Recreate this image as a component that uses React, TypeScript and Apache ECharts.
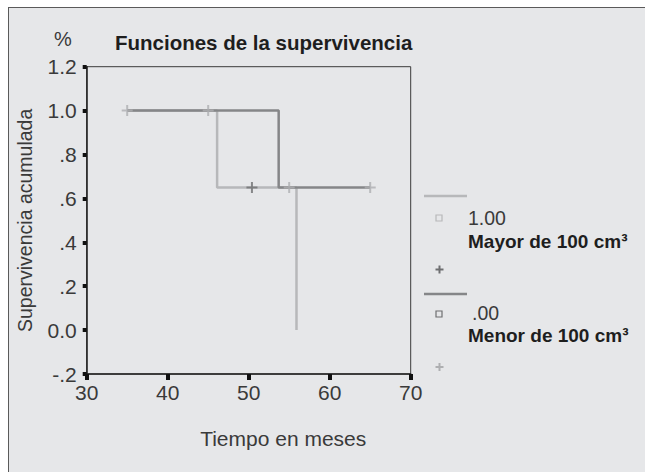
import React, { useEffect, useRef } from "react";
import * as echarts from "echarts";

// Kaplan-Meier steps (time in months, cumulative survival)
const mayorCurve: [number, number][] = [
  [35, 1.0],
  [46.1, 0.65],
  [55.9, 0.0],
];
const menorCurve: [number, number][] = [
  [35, 1.0],
  [53.7, 0.65],
  [65, 0.65],
];
// censored observations
const mayorCensored: [number, number][] = [[50.4, 0.65]];
const menorCensored: [number, number][] = [
  [35, 1.0],
  [45, 1.0],
  [55, 0.65],
  [65, 0.65],
];
const yTickLabels = ["-.2", "0.0", ".2", ".4", ".6", ".8", "1.0", "1.2"];
const legendCodes = ["1.00", ".00"];
const legendLabels = ["Mayor de 100 cm³", "Menor de 100 cm³"];

const LIGHT = "#b7b8ba";
const DARK = "#858688";
const LIGHT_PLUS = "#aeafb1";
const DARK_PLUS = "#6e6f71";
const FONT = "'Liberation Sans', Arial, sans-serif";
const PLUS = "path://M4.5,0h2v11h-2z M0,4.5h11v2h-11z";

function plus(cx: number, cy: number, color: string) {
  return {
    type: "group",
    children: [
      { type: "line", shape: { x1: cx - 4, y1: cy, x2: cx + 4, y2: cy }, style: { stroke: color, lineWidth: 2 } },
      { type: "line", shape: { x1: cx, y1: cy - 4, x2: cx, y2: cy + 4 }, style: { stroke: color, lineWidth: 2 } },
    ],
  };
}

export default function App() {
  const ref = useRef<HTMLDivElement>(null);
  useEffect(() => {
    if (!ref.current) return;
    const chart = echarts.init(ref.current, undefined, { renderer: "svg" });
    const txt = { fontFamily: FONT, color: "#3a3a3a" };
    chart.setOption({
      animation: false,
      backgroundColor: "transparent",
      title: {
        text: "Funciones de la supervivencia",
        left: 110,
        top: 27,
        textStyle: { fontFamily: FONT, fontSize: 20.5, fontWeight: "bold", color: "#1e1e1e" },
      },
      grid: {
        left: 86.7,
        top: 66.7,
        right: 234.3,
        bottom: 98,
        show: true,
        borderColor: "#3a3a3a",
        borderWidth: 1,
        containLabel: false,
      },
      xAxis: {
        type: "value",
        min: 30,
        max: 70,
        interval: 10,
        name: "Tiempo en meses",
        nameLocation: "middle",
        nameGap: 54,
        nameTextStyle: { ...txt, fontSize: 21, padding: [0, 0, 0, 69] },
        axisLine: { show: true, onZero: false, lineStyle: { color: "#222", width: 1.5 } },
        axisTick: { show: true, length: 6, lineStyle: { color: "#111", width: 4 } },
        axisLabel: { ...txt, fontSize: 21, margin: 8 },
        splitLine: { show: false },
      },
      yAxis: {
        type: "value",
        min: -0.2,
        max: 1.2,
        interval: 0.2,
        name: "Supervivencia acumulada",
        nameLocation: "middle",
        nameGap: 52,
        nameTextStyle: { ...txt, fontSize: 19.5 },
        axisLine: { show: true, onZero: false, lineStyle: { color: "#222", width: 1.5 } },
        axisTick: { show: true, length: 4, lineStyle: { color: "#111", width: 4 } },
        axisLabel: {
          ...txt,
          fontSize: 21,
          margin: 10,
          formatter: (v: number) => yTickLabels[Math.round((v + 0.2) / 0.2)] ?? "",
        },
        splitLine: { show: false },
      },
      series: [
        {
          name: "Mayor de 100 cm³",
          type: "line",
          step: "end",
          data: mayorCurve,
          symbol: "none",
          lineStyle: { color: LIGHT, width: 2.5 },
          z: 2,
        },
        {
          name: "Menor de 100 cm³",
          type: "line",
          step: "end",
          data: menorCurve,
          symbol: "none",
          lineStyle: { color: DARK, width: 2.5 },
          z: 3,
        },
        {
          name: "Mayor censurado",
          type: "scatter",
          data: mayorCensored,
          symbol: PLUS,
          symbolSize: [11, 11],
          itemStyle: { color: DARK_PLUS },
          z: 4,
        },
        {
          name: "Menor censurado",
          type: "scatter",
          data: menorCensored,
          symbol: PLUS,
          symbolSize: [11, 11],
          itemStyle: { color: LIGHT_PLUS },
          z: 4,
        },
      ],
      graphic: [
        {
          type: "text",
          x: 63,
          y: 39,
          style: { text: "%", fontFamily: FONT, fontSize: 20, fill: "#3a3a3a", align: "center", verticalAlign: "middle" },
        },
        { type: "line", shape: { x1: 424, y1: 196, x2: 467, y2: 196 }, style: { stroke: LIGHT, lineWidth: 2.5 } },
        { type: "rect", shape: { x: 436, y: 215, width: 6, height: 6 }, style: { fill: "none", stroke: LIGHT, lineWidth: 1.2 } },
        {
          type: "text",
          x: 468,
          y: 218,
          style: { text: legendCodes[0], fontFamily: FONT, fontSize: 19.5, fill: "#3a3a3a", verticalAlign: "middle" },
        },
        {
          type: "text",
          x: 468,
          y: 241,
          style: { text: legendLabels[0], fontFamily: FONT, fontSize: 19, fontWeight: "bold", fill: "#1e1e1e", verticalAlign: "middle" },
        },
        plus(439.5, 269.5, DARK_PLUS),
        { type: "line", shape: { x1: 424, y1: 294, x2: 467, y2: 294 }, style: { stroke: DARK, lineWidth: 2.5 } },
        { type: "rect", shape: { x: 436, y: 311, width: 6, height: 6 }, style: { fill: "none", stroke: "#6e6f71", lineWidth: 1.2 } },
        {
          type: "text",
          x: 472,
          y: 313,
          style: { text: legendCodes[1], fontFamily: FONT, fontSize: 19.5, fill: "#3a3a3a", verticalAlign: "middle" },
        },
        {
          type: "text",
          x: 468,
          y: 335,
          style: { text: legendLabels[1], fontFamily: FONT, fontSize: 19, fontWeight: "bold", fill: "#1e1e1e", verticalAlign: "middle" },
        },
        plus(439.5, 367, LIGHT_PLUS),
      ],
    });
    return () => chart.dispose();
  }, []);

  return (
    <div style={{ position: "fixed", left: 0, top: 0, width: 645, height: 472, background: "#ffffff", overflow: "hidden" }}>
      <div
        style={{
          position: "absolute",
          left: 8,
          top: 7,
          width: 700,
          height: 520,
          background: "#e6e7e9",
          border: "1px solid #5a5a5a",
        }}
      />
      <div ref={ref} style={{ position: "absolute", left: 0, top: 0, width: 645, height: 472 }} />
    </div>
  );
}
